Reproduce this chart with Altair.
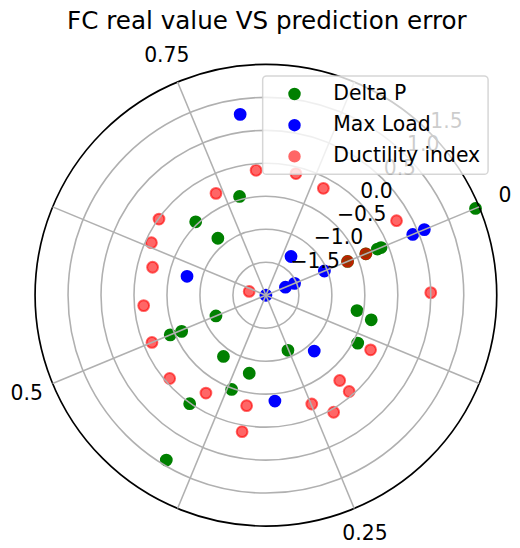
import altair as alt
import pandas as pd

# series (order = drawing order in the original)
series_names = ["Delta P", "Max Load", "Ductility index"]
series_colors = ["green", "blue", "rgba(255, 0, 0, 0.6)"]

# FC real value (angle, 0..1 around the circle) and prediction error (radius)
dp_fc = [0.0, 0.0, 0.0, 0.0, 0.0, 0.089, 0.099, 0.139, 0.252, 0.5,
         0.5, 0.498, 0.409, 0.346, 0.368, 0.410, 0.399, 0.771, 0.691, 0.701]
dp_err = [1.44, -0.17, -0.11, -0.36, -0.66, -0.60, -0.36, -0.43, -1.10, -1.18,
          -0.43, -0.61, -0.87, -0.79, -0.48, 0.01, 0.92, -0.45, -0.46, -0.87]

ml_fc = [0.790, 0.600, 0.0, 0.0, 0.904, 0.0, 0.0, 0.0, 0.0, 0.199, 0.299]
ml_err = [0.77, -0.77, 0.41, 0.60, -1.30, -1.04, -1.68, -1.53, -2.0, -0.88, -0.39]

di_fc = [0.800, 0.851, 0.891, 0.980, 0.0, 0.0, 0.598, 0.740, 0.661, 0.631,
         0.601, 0.549, 0.5, 0.449, 0.400, 0.340, 0.340, 0.060, 0.139, 0.199,
         0.199, 0.249, 0.229]
di_err = [-0.10, -0.10, -0.16, 0.28, -0.36, -0.66, -1.74, -0.28, -0.01, -0.09,
          -0.23, -0.14, -0.13, -0.07, -0.26, -0.30, 0.10, 0.50, -0.21, -0.29,
          -0.07, -0.21, 0.05]

# polar axes
theta_ticks = [0, 0.25, 0.5, 0.75]
theta_labels = ["0", "0.25", "0.5", "0.75"]
r_ticks = [-1.5, -1.0, -0.5, 0.0, 0.5, 1.0, 1.5]
r_labels = ["\u22121.5", "\u22121.0", "\u22120.5", "0.0", "0.5", "1.0", "1.5"]
grid_angles = [22.5, 67.5, 112.5, 157.5, 202.5, 247.5, 292.5, 337.5]
r_min = -2.0
r_max = 1.5

FONT = "DejaVu Sans"
PX = 67.0  # pixels per radial unit

points = pd.concat([
    pd.DataFrame({"fc": dp_fc, "err": dp_err, "series": series_names[0]}),
    pd.DataFrame({"fc": ml_fc, "err": ml_err, "series": series_names[1]}),
    pd.DataFrame({"fc": di_fc, "err": di_err, "series": series_names[2]}),
], ignore_index=True)

xs = alt.Scale(domain=[-3.91045, 3.61194], nice=False, zero=False)
ys = alt.Scale(domain=[-3.64925, 3.69403], nice=False, zero=False)

def X(f):
    return alt.X(f, type="quantitative", scale=xs, axis=None)

def Y(f):
    return alt.Y(f, type="quantitative", scale=ys, axis=None)

ang_expr = "(22.5 - 360 * datum.fc) * PI / 180"
rad_expr = f"(datum.err - ({r_min}))"

scatter = alt.Chart(points).transform_calculate(
    px=f"{rad_expr} * cos({ang_expr})",
    py=f"{rad_expr} * sin({ang_expr})",
).mark_circle(size=121, strokeWidth=2, opacity=1).encode(
    x=X("px"),
    y=Y("py"),
    color=alt.Color("series:N", scale=alt.Scale(domain=series_names, range=series_colors),
                    legend=alt.Legend(title=None, orient="none", legendX=258.7, legendY=24.7)),
    stroke=alt.Stroke("series:N", scale=alt.Scale(domain=series_names, range=series_colors), legend=None),
)

rings = alt.Chart(pd.DataFrame({"r": r_ticks[:-1]})).transform_calculate(
    cx="0", cy="0", sz=f"pow(2 * (datum.r - ({r_min})) * {PX}, 2)"
).mark_point(shape="circle", filled=False, color="#b0b0b0", strokeWidth=1.6, opacity=1).encode(
    x=X("cx"), y=Y("cy"), size=alt.Size("sz:Q", scale=None)
)

spine = alt.Chart(pd.DataFrame({"r": [r_max]})).transform_calculate(
    cx="0", cy="0", sz=f"pow(2 * (datum.r - ({r_min})) * {PX}, 2)"
).mark_point(shape="circle", filled=False, color="black", strokeWidth=1.7, opacity=1).encode(
    x=X("cx"), y=Y("cy"), size=alt.Size("sz:Q", scale=None)
)

spokes = alt.Chart(pd.DataFrame({"a": grid_angles})).transform_calculate(
    x0="0", y0="0",
    x1=f"{r_max - r_min} * cos(datum.a * PI / 180)",
    y1=f"{r_max - r_min} * sin(datum.a * PI / 180)",
).mark_rule(color="#b0b0b0", strokeWidth=1.6).encode(
    x=X("x0"), y=Y("y0"), x2="x1:Q", y2="y1:Q"
)

theta_text = alt.Chart(pd.DataFrame({"t": theta_ticks, "label": theta_labels})).transform_calculate(
    tx="3.925 * cos((22.5 - 360 * datum.t) * PI / 180)",
    ty="3.925 * sin((22.5 - 360 * datum.t) * PI / 180)",
).mark_text(font=FONT, fontSize=20.7, color="black", align="center", baseline="middle").encode(
    x=X("tx"), y=Y("ty"), text="label:N"
)

r_text = alt.Chart(pd.DataFrame({"r": r_ticks, "label": r_labels})).transform_calculate(
    tx=f"(datum.r - ({r_min})) * cos(PI / 4)",
    ty=f"(datum.r - ({r_min})) * sin(PI / 4)",
).mark_text(font=FONT, fontSize=20.7, color="black", align="left", baseline="alphabetic",
            dx=1.2, dy=-4.2).encode(
    x=X("tx"), y=Y("ty"), text="label:N"
)

chart = alt.layer(scatter, rings, spine, spokes, theta_text, r_text).properties(
    width=504,
    height=492,
    padding={"left": 0, "top": 40, "right": 8, "bottom": 8},
    autosize=alt.AutoSizeParams(type="none"),
    title=alt.Title("FC real value VS prediction error", font=FONT, fontSize=25,
                    fontWeight="normal", color="black", dx=11, offset=12),
).configure_view(
    stroke=None
).configure_legend(
    labelFont=FONT,
    labelFontSize=20.7,
    labelColor="black",
    labelOffset=29,
    symbolType="circle",
    symbolSize=160,
    symbolStrokeWidth=0,
    symbolOffset=14,
    rowPadding=9.7,
    padding=8,
    fillColor="rgba(255,255,255,0.8)",
    strokeColor="rgba(204,204,204,0.8)",
    strokeWidth=1.5,
    cornerRadius=4,
)

chart.save("out.html", embed_options={"renderer": "svg", "actions": False})
